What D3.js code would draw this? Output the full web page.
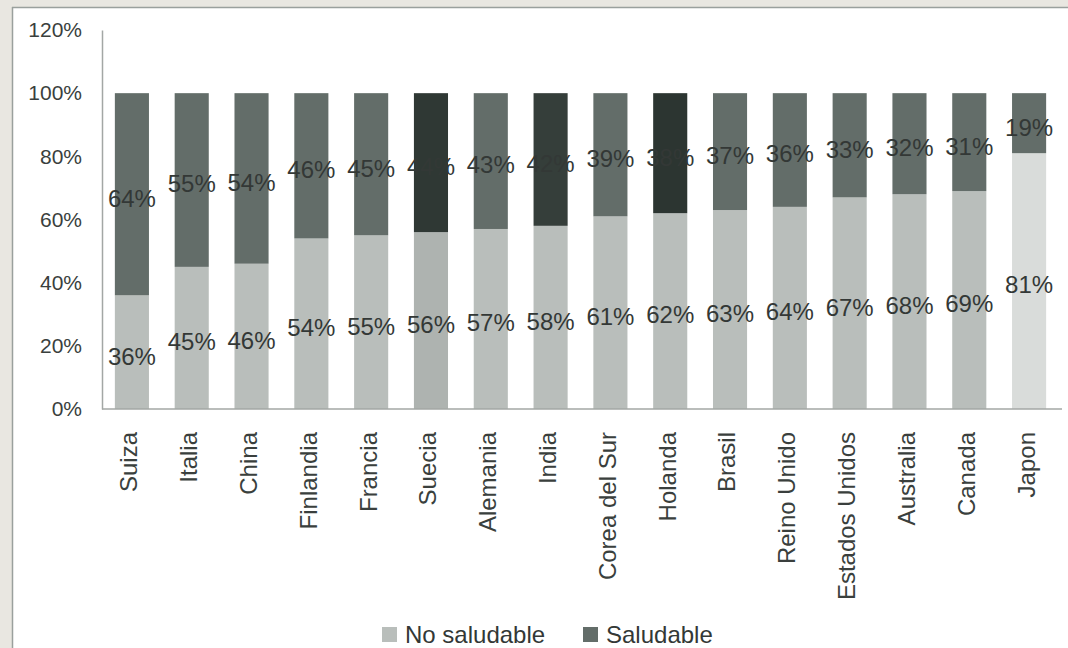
<!DOCTYPE html>
<html>
<head>
<meta charset="utf-8">
<script src="https://cdn.jsdelivr.net/npm/d3@7"></script>
<style>
  html, body { margin: 0; padding: 0; background: #e9e7e1; }
  svg { display: block; font-family: "Liberation Sans", Arial, sans-serif; }
</style>
</head>
<body>
<svg id="chart" width="1068" height="648"></svg>
<script>
// Share of healthy vs. unhealthy responses by country (%)
const categories = ["Suiza", "Italia", "China", "Finlandia", "Francia", "Suecia", "Alemania", "India",
  "Corea del Sur", "Holanda", "Brasil", "Reino Unido", "Estados Unidos", "Australia", "Canada", "Japon"];
const noSaludable = [36, 45, 46, 54, 55, 56, 57, 58, 61, 62, 63, 64, 67, 68, 69, 81];
const saludable   = [64, 55, 54, 46, 45, 44, 43, 42, 39, 38, 37, 36, 33, 32, 31, 19];
const yTicks = [0, 20, 40, 60, 80, 100, 120];
const seriesNames = ["No saludable", "Saludable"];

// Print tone per bar (a few columns came out darker)
const darkTone = { "Suecia": "#2f3834", "India": "#353e3a", "Holanda": "#2c3531" };
const lightTone = { "Japon": "#d9dcda", "Suecia": "#aeb3b0" };
const baseDark = "#636d69";
const baseLight = "#b9bebb";
const axisColor = "#a3a7a5";
const textColor = "#333836";

const svg = d3.select("#chart");
const W = 1068, H = 648;

// panel background and frame
svg.append("rect").attr("x", 12).attr("y", 7).attr("width", W - 12).attr("height", H - 7)
  .attr("fill", "#ffffff");
svg.append("line").attr("x1", 12).attr("x2", W).attr("y1", 7.5).attr("y2", 7.5)
  .attr("stroke", "#9aa09d").attr("stroke-width", 1.5);
svg.append("line").attr("x1", 12.5).attr("x2", 12.5).attr("y1", 7).attr("y2", H)
  .attr("stroke", "#9aa09d").attr("stroke-width", 1.5);

const plotLeft = 102, plotRight = 1062;
const x = d3.scaleBand().domain(categories).range([plotLeft, plotRight - 3])
  .paddingInner(0.43).paddingOuter(0.215);
const y = d3.scaleLinear().domain([0, 120]).range([409, 30]);

const rows = categories.map((c, i) => ({ c, ns: noSaludable[i], s: saludable[i] }));

// y axis
const yAxis = svg.append("g").attr("transform", `translate(${plotLeft},0)`)
  .call(d3.axisLeft(y).tickValues(yTicks).tickFormat(d => d + "%").tickSize(0).tickPadding(20));
yAxis.select(".domain").attr("stroke", axisColor).attr("stroke-width", 1.5);
yAxis.selectAll("text").attr("font-size", 21).attr("fill", "#3a3f3d")
  .attr("font-family", "'Liberation Sans', Arial, sans-serif");

// bars
const g = svg.append("g");
g.selectAll("rect.ns").data(rows).join("rect").attr("class", "ns")
  .attr("x", d => x(d.c)).attr("width", x.bandwidth())
  .attr("y", d => y(d.ns)).attr("height", d => y(0) - y(d.ns))
  .attr("fill", d => lightTone[d.c] || baseLight);
g.selectAll("rect.s").data(rows).join("rect").attr("class", "s")
  .attr("x", d => x(d.c)).attr("width", x.bandwidth())
  .attr("y", d => y(d.ns + d.s)).attr("height", d => y(d.ns) - y(d.ns + d.s))
  .attr("fill", d => darkTone[d.c] || baseDark);

// x axis: category labels, baseline runs the full plot width
const xAxis = svg.append("g").attr("transform", `translate(0,${y(0)})`)
  .call(d3.axisBottom(x).tickSize(0).tickPadding(0));
xAxis.select(".domain").remove();
svg.append("line").attr("x1", plotLeft).attr("x2", plotRight).attr("y1", y(0)).attr("y2", y(0))
  .attr("stroke", axisColor).attr("stroke-width", 1.5);
xAxis.selectAll("text")
  .attr("font-size", 24).attr("fill", "#3a3f3d")
  .attr("font-family", "'Liberation Sans', Arial, sans-serif")
  .attr("text-anchor", "end")
  .attr("transform", "translate(-3,23) rotate(-90)")
  .attr("x", 0).attr("y", 0).attr("dy", "0.35em");

// value labels
const fmt = v => v + "%";
const labels = svg.append("g").attr("font-size", 24).attr("fill", textColor).attr("text-anchor", "middle");
labels.selectAll("text.ns").data(rows).join("text")
  .attr("x", d => x(d.c) + x.bandwidth() / 2)
  .attr("y", d => y(d.ns / 2) + 4).attr("dy", "0.35em")
  .text(d => fmt(d.ns));
labels.selectAll("text.s").data(rows).join("text")
  .attr("x", d => x(d.c) + x.bandwidth() / 2)
  .attr("y", d => y(d.ns + d.s / 2) + 4).attr("dy", "0.35em")
  .text(d => fmt(d.s));

// legend
const legend = svg.append("g").attr("transform", "translate(382,635)");
const legendItems = [
  { name: seriesNames[0], color: baseLight, dx: 0 },
  { name: seriesNames[1], color: baseDark, dx: 201 }
];
const li = legend.selectAll("g").data(legendItems).join("g").attr("transform", d => `translate(${d.dx},0)`);
li.append("rect").attr("x", 0).attr("y", -8).attr("width", 15).attr("height", 15).attr("fill", d => d.color);
li.append("text").attr("x", 23).attr("y", 0).attr("dy", "0.35em").attr("font-size", 24).attr("fill", textColor)
  .text(d => d.name);
</script>
</body>
</html>
